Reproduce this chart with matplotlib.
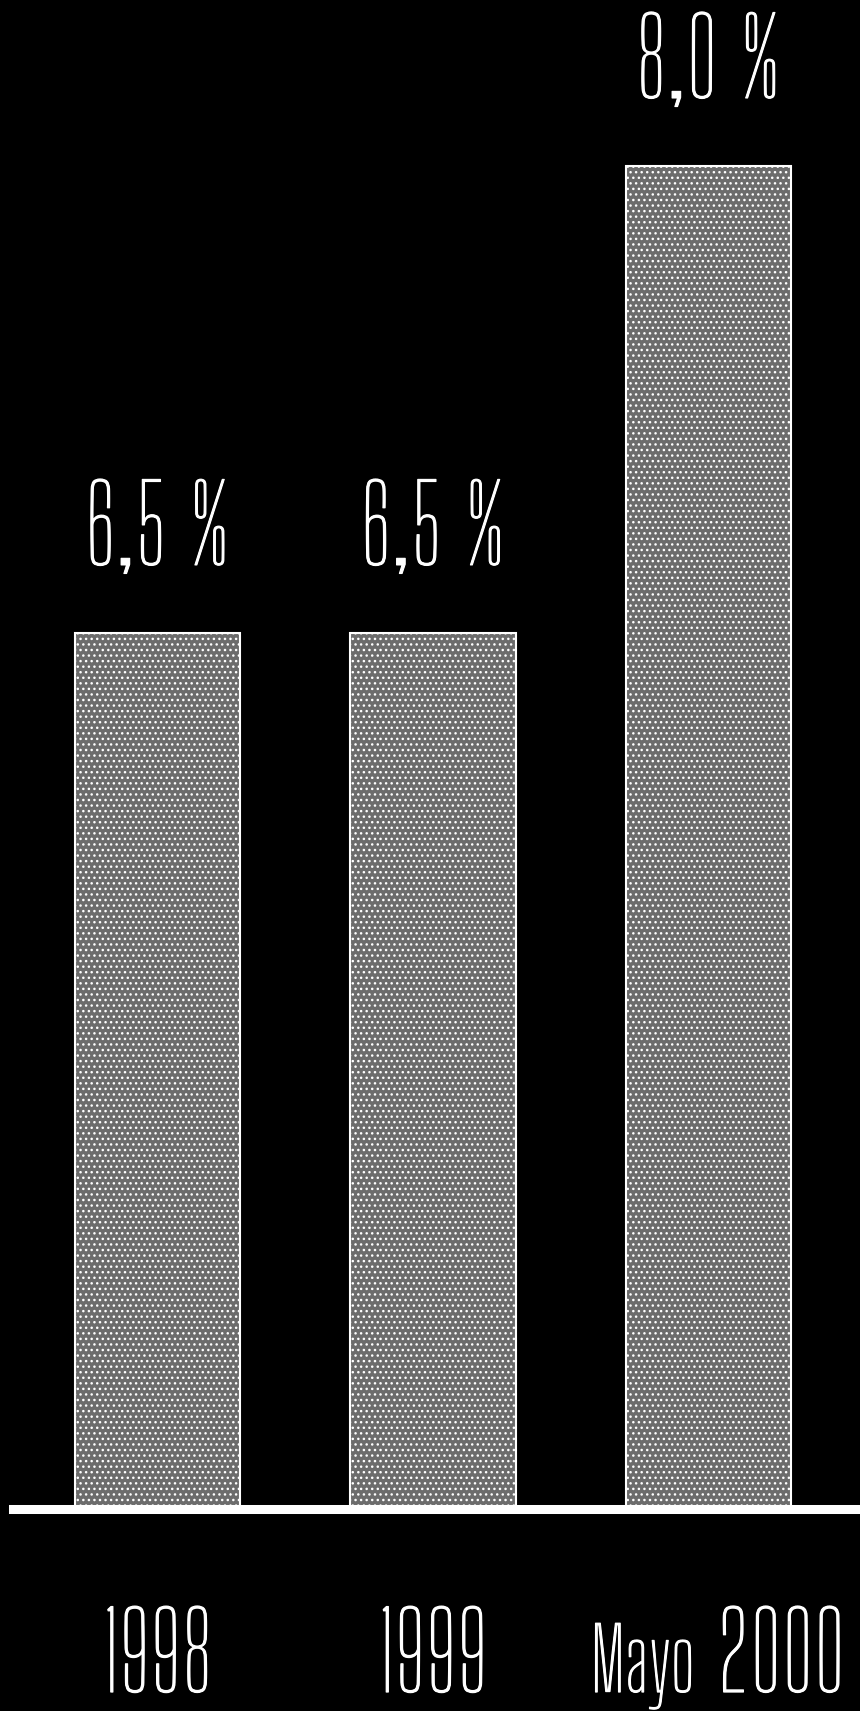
import matplotlib
matplotlib.use('Agg')
import matplotlib.pyplot as plt
import matplotlib.transforms as mtransforms
import matplotlib.patheffects as pe

# values
categories = ['1998', '1999', '2000']
cat_prefix = ['', '', 'Mayo']
values = [6.5, 6.5, 8.0]
value_labels = ['6,5 %', '6,5 %', '8,0 %']

fontname = ['Big Shoulders', 'DejaVu Sans']
size = 77
small = 62
thick = [pe.withStroke(linewidth=0.8, foreground='white')]

fig = plt.figure(figsize=(8.6, 17.11), dpi=100, facecolor='black')
ax = fig.add_axes([13/860, 202/1711, 847/860, 1509/1711])
ax.set_facecolor('black')

x = list(range(len(values)))
ax.bar(x, values, width=0.6, bottom=0, color='#6c6c6c', edgecolor='white',
       hatch='...', lw=1.5)

# axis does not start at zero, bars are cut at the baseline
y0 = 3.686
ax.set_xlim(-0.5245, 2.55)
ax.set_ylim(y0, y0 + 1509/311.3)

ax.axhline(y0, color='white', lw=6.5, clip_on=False, zorder=5)

for xi, v, lab in zip(x, values, value_labels):
    ax.annotate(lab, xy=(xi, v), xytext=(0, 49), textcoords='offset points',
                ha='center', va='baseline', color='white', fontsize=size,
                family=fontname, path_effects=thick)

trans = mtransforms.blended_transform_factory(ax.transData, ax.transAxes)
ybase = -0.1213
for xi, cat, pre in zip(x, categories, cat_prefix):
    if pre:
        ax.annotate(pre, xy=(xi, ybase), xycoords=trans, xytext=(-10, 0),
                    textcoords='offset points', ha='right', va='baseline',
                    color='white', fontsize=small, family=fontname, path_effects=thick)
        ax.annotate(cat, xy=(xi, ybase), xycoords=trans, xytext=(6, 0),
                    textcoords='offset points', ha='left', va='baseline',
                    color='white', fontsize=size, family=fontname, path_effects=thick)
    else:
        ax.text(xi, ybase, cat, transform=trans, ha='center', va='baseline',
                color='white', fontsize=size, family=fontname, path_effects=thick)

ax.set_xticks([])
ax.set_yticks([])
for s in ax.spines.values():
    s.set_visible(False)

plt.savefig('out.png', dpi=100, facecolor='black')
